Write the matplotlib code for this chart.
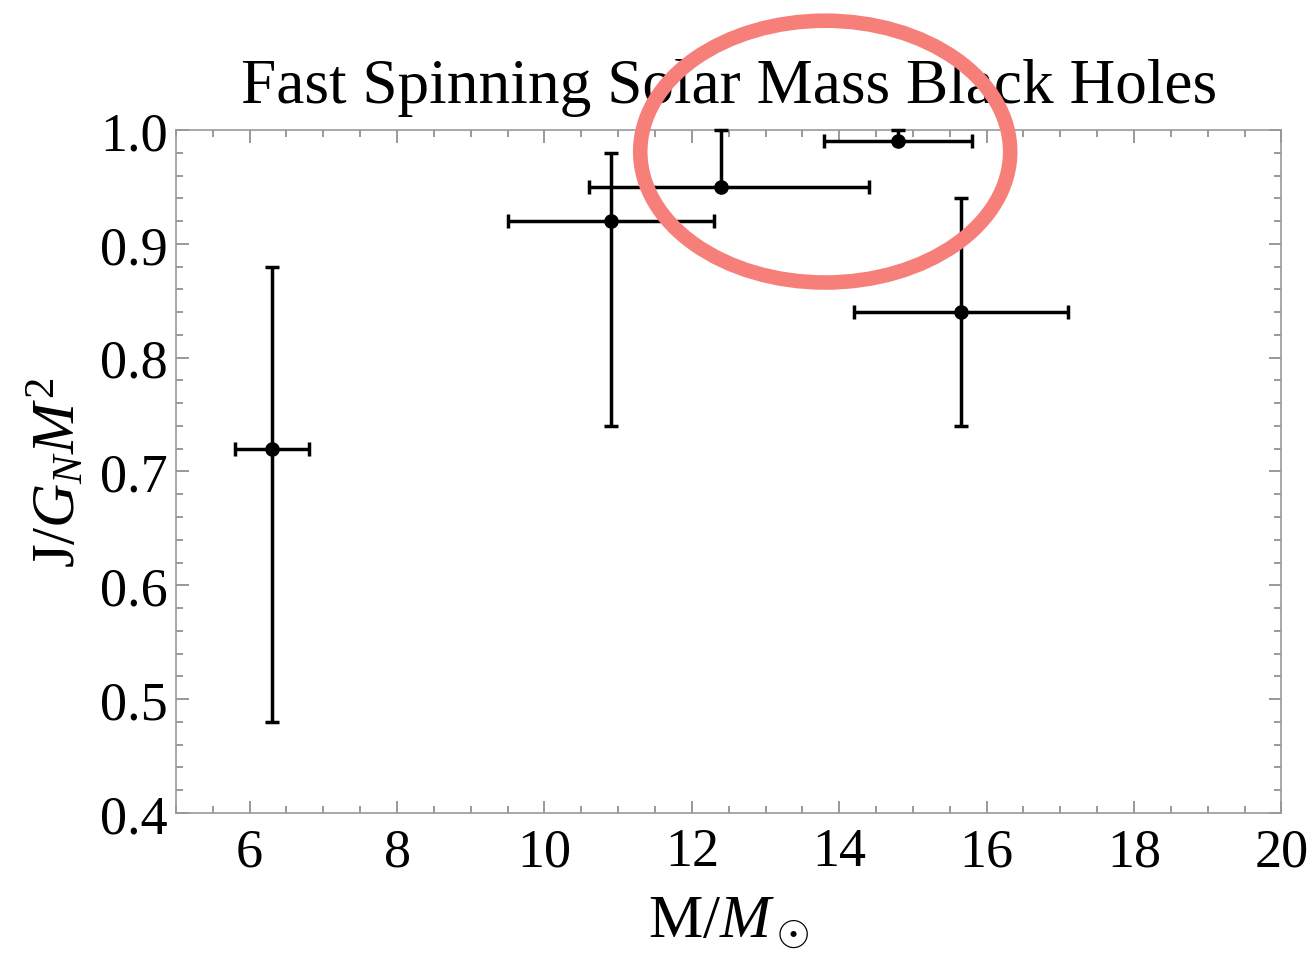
import matplotlib.pyplot as plt
from matplotlib.patches import Ellipse
from matplotlib.ticker import MultipleLocator

plt.rcParams['font.family'] = ['Liberation Serif', 'DejaVu Serif']
plt.rcParams['mathtext.fontset'] = 'custom'
plt.rcParams['mathtext.rm'] = 'Liberation Serif'
plt.rcParams['mathtext.it'] = 'Liberation Serif:italic'

# masses (solar units) and spins, with asymmetric errors
masa = [6.3, 10.9, 12.4, 14.8, 15.65]
masa_lo = [0.5, 1.4, 1.8, 1.0, 1.45]
masa_hi = [0.5, 1.4, 2.0, 1.0, 1.45]
spin = [0.72, 0.92, 0.95, 0.99, 0.84]
spin_lo = [0.24, 0.18, 0.0, 0.0, 0.10]
spin_hi = [0.16, 0.06, 0.05, 0.01, 0.10]

fig = plt.figure(figsize=(13.16, 9.54), dpi=100)
ax = fig.add_axes([0.1337, 0.1468, 0.84, 0.7159])

ax.errorbar(masa, spin, xerr=[masa_lo, masa_hi], yerr=[spin_lo, spin_hi],
            fmt='o', color='black', ms=9.5, elinewidth=2.5, capsize=5,
            capthick=2.5, clip_on=False, zorder=3)

ax.set_xlim(5, 20)
ax.set_ylim(0.4, 1.0)
ax.xaxis.set_major_locator(MultipleLocator(2))
ax.xaxis.set_minor_locator(MultipleLocator(0.5))
ax.yaxis.set_major_locator(MultipleLocator(0.1))
ax.yaxis.set_minor_locator(MultipleLocator(0.02))
ax.tick_params(which='both', direction='in', top=True, right=True,
               color='#888888', width=1.2)
ax.tick_params(which='major', length=9, labelsize=39)
ax.tick_params(which='minor', length=5)
ax.tick_params(axis='x', pad=10)
ax.tick_params(axis='y', pad=6)
for s in ax.spines.values():
    s.set_color('#999999')
    s.set_linewidth(1.2)

ax.set_title('Fast Spinning Solar Mass Black Holes', fontsize=45.5, pad=20)
ax.set_xlabel(r'M/$M_\odot$', fontsize=44, labelpad=12)
ax.set_ylabel(r'J/$G_N M^2$', fontsize=44, labelpad=8)

# circled region highlighting the two near-extremal points
circ = Ellipse((13.81, 0.981), 5.02, 0.230, angle=0, fill=False,
               edgecolor='#f77f7a', linewidth=10.5, clip_on=False, zorder=4)
ax.add_patch(circ)

fig.savefig('out.png', dpi=100)
